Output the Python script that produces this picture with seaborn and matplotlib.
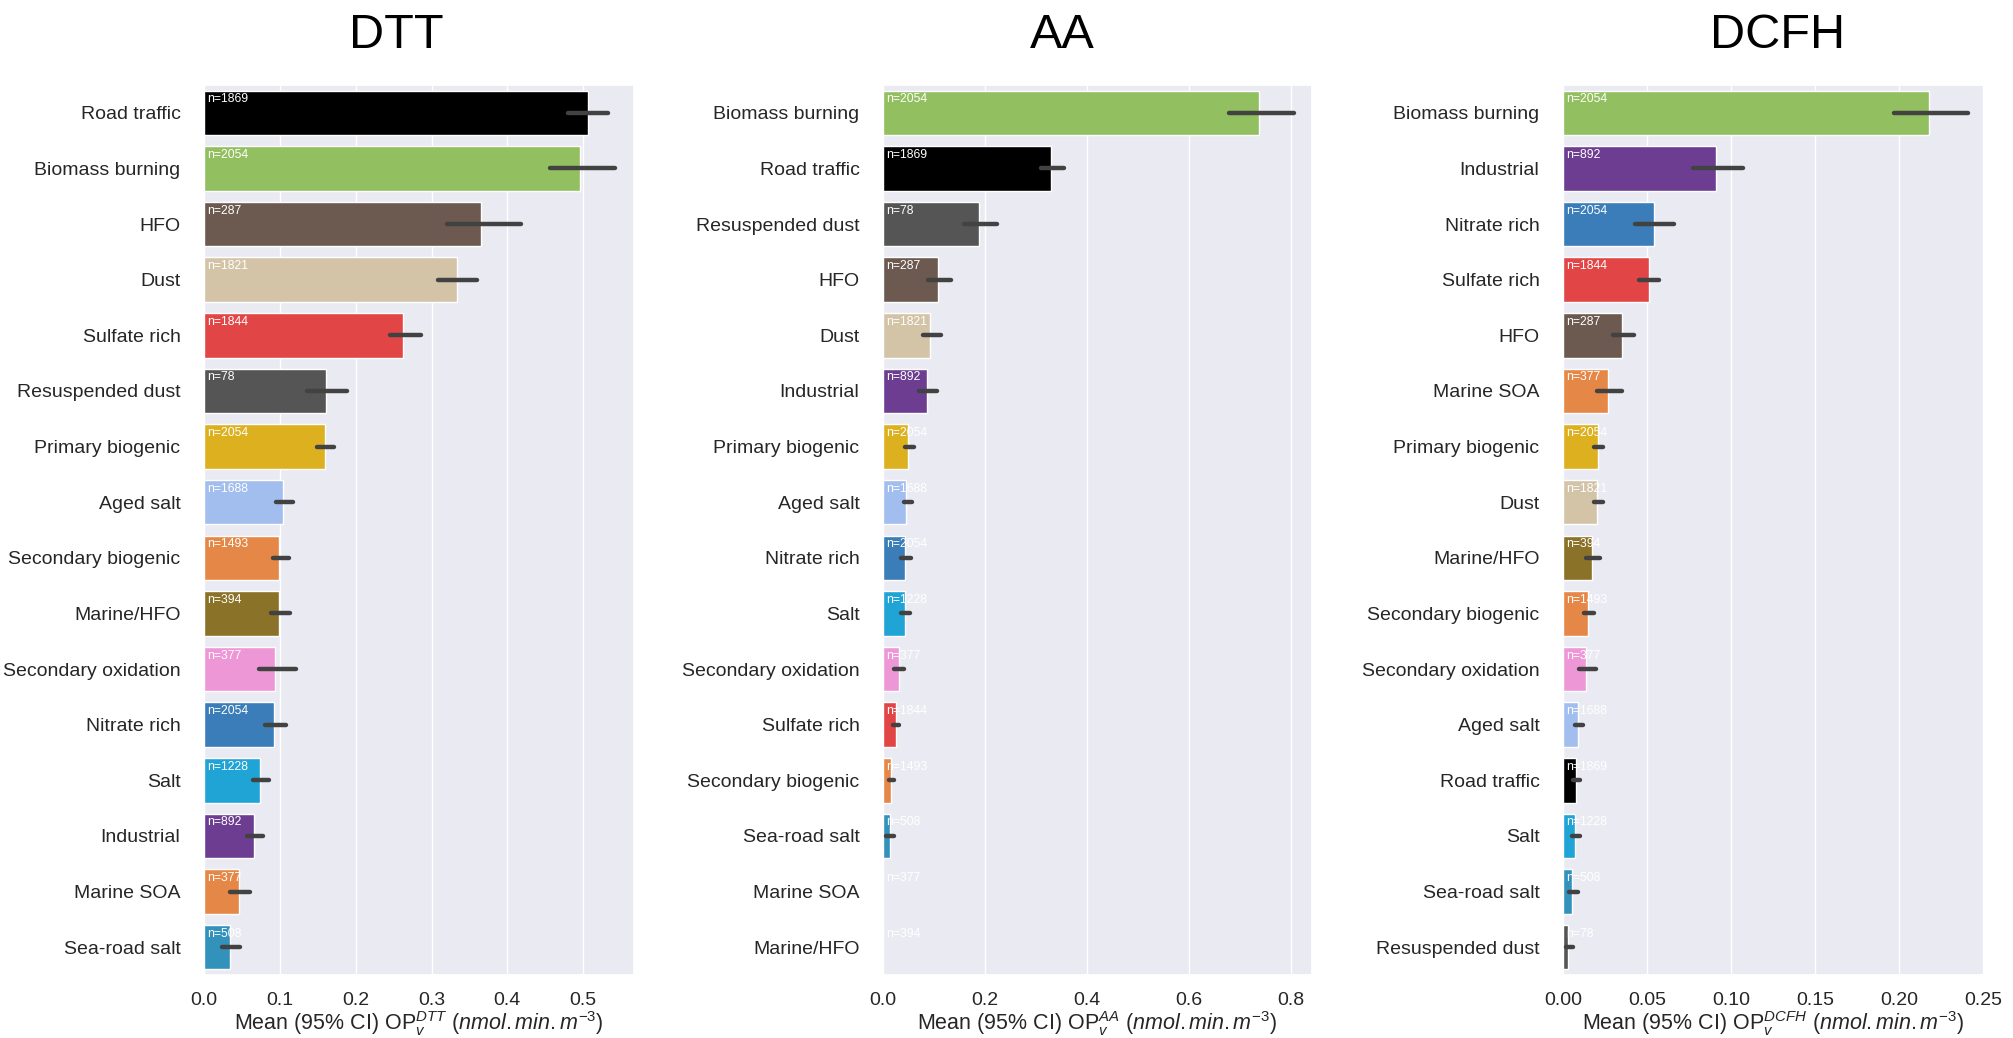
import numpy as np
import pandas as pd
import matplotlib
matplotlib.use("Agg")
import matplotlib.pyplot as plt
import seaborn as sns

# ---- source metadata -------------------------------------------------------
source_names = [
    "Road traffic", "Biomass burning", "HFO", "Dust", "Sulfate rich",
    "Resuspended dust", "Primary biogenic", "Aged salt", "Secondary biogenic",
    "Marine/HFO", "Secondary oxidation", "Nitrate rich", "Salt", "Industrial",
    "Marine SOA", "Sea-road salt",
]
n_samples = [1869, 2054, 287, 1821, 1844, 78, 2054, 1688, 1493,
             394, 377, 2054, 1228, 892, 377, 508]
source_colors = [
    "#000000", "#92BF5F", "#6C594F", "#D3C4A8", "#E24546",
    "#555555", "#DDB020", "#A2BEEE", "#E58746",
    "#8B7229", "#EE97D6", "#3A7DB8", "#20A4D5", "#6D3D92",
    "#E58746", "#3292BC",
]

# ---- OPv DTT ---------------------------------------------------------------
dtt_order = [
    "Road traffic", "Biomass burning", "HFO", "Dust", "Sulfate rich",
    "Resuspended dust", "Primary biogenic", "Aged salt", "Secondary biogenic",
    "Marine/HFO", "Secondary oxidation", "Nitrate rich", "Salt", "Industrial",
    "Marine SOA", "Sea-road salt",
]
dtt_mean = [0.506, 0.496, 0.365, 0.333, 0.263, 0.161, 0.159, 0.104, 0.099,
            0.099, 0.094, 0.092, 0.074, 0.066, 0.046, 0.034]
dtt_ci_low = [0.480, 0.456, 0.320, 0.308, 0.245, 0.136, 0.149, 0.095, 0.091,
              0.088, 0.072, 0.081, 0.065, 0.057, 0.034, 0.024]
dtt_ci_high = [0.533, 0.542, 0.418, 0.360, 0.286, 0.188, 0.171, 0.117, 0.112,
               0.114, 0.121, 0.108, 0.086, 0.078, 0.060, 0.047]

# ---- OPv AA ----------------------------------------------------------------
aa_order = [
    "Biomass burning", "Road traffic", "Resuspended dust", "HFO", "Dust",
    "Industrial", "Primary biogenic", "Aged salt", "Nitrate rich", "Salt",
    "Secondary oxidation", "Sulfate rich", "Secondary biogenic",
    "Sea-road salt", "Marine SOA", "Marine/HFO",
]
aa_mean = [0.737, 0.329, 0.189, 0.107, 0.093, 0.086, 0.050, 0.046, 0.044,
           0.043, 0.032, 0.025, 0.015, 0.013, np.nan, np.nan]
aa_ci_low = [0.679, 0.310, 0.159, 0.089, 0.078, 0.071, 0.043, 0.041, 0.036,
             0.035, 0.022, 0.020, 0.011, 0.006, np.nan, np.nan]
aa_ci_high = [0.807, 0.356, 0.223, 0.133, 0.114, 0.106, 0.060, 0.056, 0.055,
              0.053, 0.042, 0.031, 0.022, 0.021, np.nan, np.nan]

# ---- OPv DCFH --------------------------------------------------------------
dcfh_order = [
    "Biomass burning", "Industrial", "Nitrate rich", "Sulfate rich", "HFO",
    "Marine SOA", "Primary biogenic", "Dust", "Marine/HFO",
    "Secondary biogenic", "Secondary oxidation", "Aged salt", "Road traffic",
    "Salt", "Sea-road salt", "Resuspended dust",
]
dcfh_mean = [0.218, 0.0908, 0.0541, 0.0510, 0.0354, 0.0269, 0.0210, 0.0205,
             0.0174, 0.0149, 0.0138, 0.0090, 0.0077, 0.0074, 0.0054, 0.0031]
dcfh_ci_low = [0.197, 0.0774, 0.0430, 0.0450, 0.0300, 0.0205, 0.0187, 0.0185,
               0.0138, 0.0123, 0.0095, 0.0072, 0.0062, 0.0051, 0.0033, 0.0018]
dcfh_ci_high = [0.241, 0.107, 0.066, 0.0574, 0.042, 0.0349, 0.0238, 0.0238,
                0.022, 0.0187, 0.0197, 0.0118, 0.010, 0.0103, 0.0087, 0.0059]

# ---- style -----------------------------------------------------------------
sns.set_theme(style="darkgrid")
plt.rcParams["font.family"] = ["Liberation Sans", "DejaVu Sans"]
plt.rcParams["mathtext.fontset"] = "custom"
plt.rcParams["mathtext.rm"] = "Liberation Sans"
plt.rcParams["mathtext.it"] = "Liberation Sans:italic"
plt.rcParams["mathtext.bf"] = "Liberation Sans:bold"

color_of = dict(zip(source_names, source_colors))
n_of = dict(zip(source_names, n_samples))

W, H = 2013, 1038
fig = plt.figure(figsize=(W / 100, H / 100), dpi=100)

ax_bottom = (H - 975) / H
ax_height = 890 / H
panels = [
    ("DTT", dtt_order, dtt_mean, dtt_ci_low, dtt_ci_high, 204, 430, 0.567, 396),
    ("AA", aa_order, aa_mean, aa_ci_low, aa_ci_high, 883, 429, 0.842, 1062),
    ("DCFH", dcfh_order, dcfh_mean, dcfh_ci_low, dcfh_ci_high, 1563, 421, 0.2505, 1778),
]

for assay, order, mean, lo, hi, left_px, width_px, xmax, title_x in panels:
    ax = fig.add_axes([left_px / W, ax_bottom, width_px / W, ax_height])
    df = pd.DataFrame({"source": order, "op": mean})
    palette = {s: color_of[s] for s in order}
    sns.barplot(data=df, x="op", y="source", hue="source", order=order,
                hue_order=order, palette=palette, saturation=1,
                errorbar=None, legend=False, width=0.8, ax=ax)

    # 95% confidence intervals
    for i, (l, h) in enumerate(zip(lo, hi)):
        if np.isnan(l):
            continue
        ax.plot([l, h], [i, i], color=".26", lw=3.2,
                solid_capstyle="round", zorder=3)

    # sample counts at the base of each bar
    for i, s in enumerate(order):
        ax.annotate(f"n={n_of[s]}", xy=(0, i - 0.4), xytext=(2, -2),
                    textcoords="offset points", ha="left", va="top",
                    color="white", fontsize=8.8, zorder=4)

    ax.set_yticks(range(len(order)), order)
    ax.set_ylim(len(order) - 0.5, -0.5)
    ax.set_xlim(0, xmax)
    ax.set_ylabel("")
    ax.set_xlabel(
        f"Mean (95% CI) OP$_v^{{{assay}}}$ ($nmol.min.m^{{-3}}$)",
        fontsize=15.5, labelpad=0,
    )
    ax.tick_params(axis="x", labelsize=14, pad=6)
    ax.tick_params(axis="y", labelsize=14, pad=11)
    fig.text(title_x / W, 1 - 48 / H, assay, ha="center", va="baseline",
             fontsize=35, color="black")

fig.savefig("out.png", dpi=100)
